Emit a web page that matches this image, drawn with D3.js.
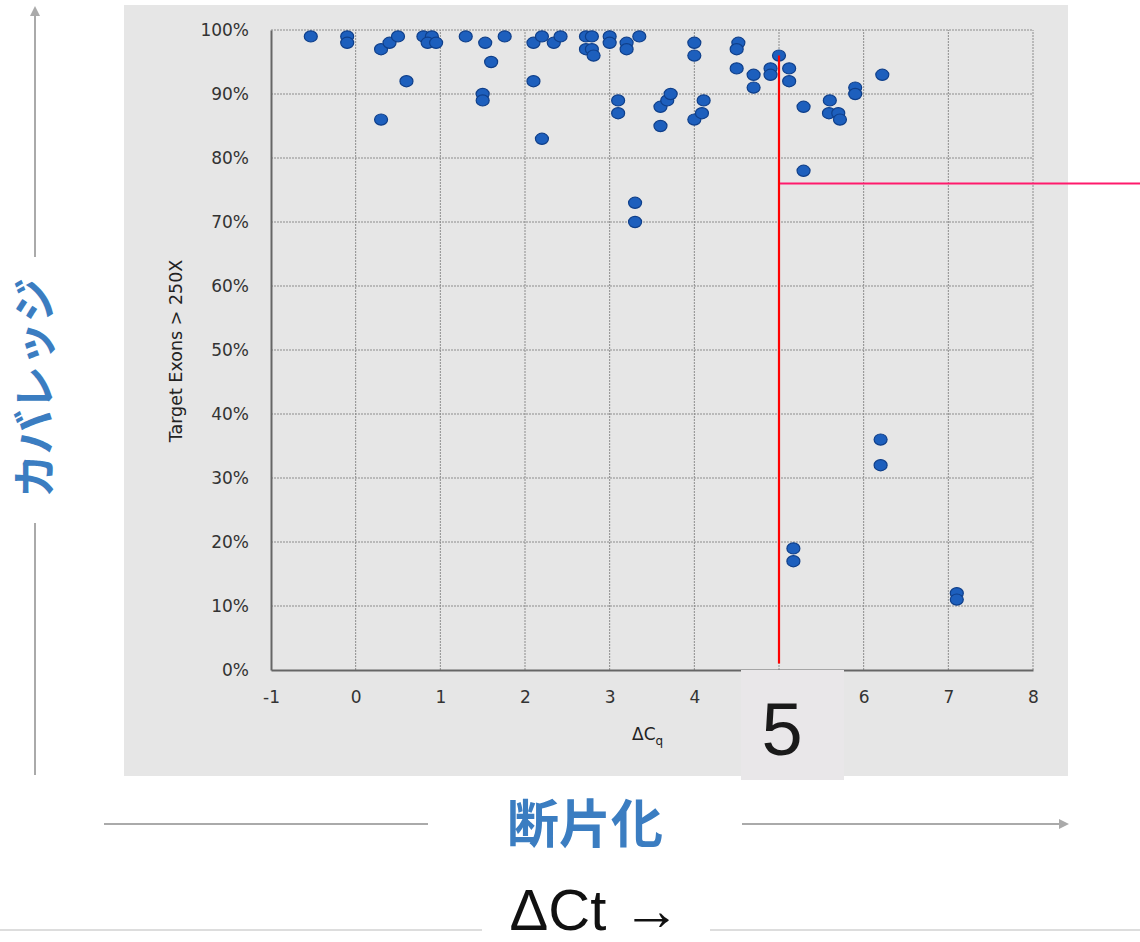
<!DOCTYPE html>
<html>
<head>
<meta charset="utf-8">
<script src="https://cdn.jsdelivr.net/npm/d3@7"></script>
<style>
  body { margin: 0; background: #fff; }
  svg { display: block; }
</style>
</head>
<body>
<div id="chart"></div>
<script>
// ΔCq of each sample
var deltaCq = [
  -0.53, -0.1, -0.1, 0.3, 0.4, 0.5, 0.6, 0.3, 0.8, 0.9, 0.85, 0.95,
  1.3, 1.53, 1.76, 1.6, 1.5, 1.5, 2.1, 2.1, 2.2, 2.2, 2.34, 2.42,
  2.72, 2.79, 2.72, 2.79, 2.81, 3.0, 3.0, 3.2, 3.2, 3.35, 3.1, 3.1,
  3.6, 3.68, 3.72, 3.6, 4.0, 4.0, 4.11, 4.0, 4.09, 4.52, 4.5, 4.5,
  4.7, 4.7, 4.9, 4.9, 5.0, 5.12, 5.12, 5.29, 5.29, 5.6, 5.59, 5.7,
  5.72, 5.9, 5.9, 6.22, 3.3, 3.3, 6.2, 6.2, 5.17, 5.17, 7.1, 7.1
];
// % of target exons > 250X
var coverage = [
  99, 99, 98, 97, 98, 99, 92, 86, 99, 99, 98, 98,
  99, 98, 99, 95, 90, 89, 92, 98, 83, 99, 98, 99,
  99, 99, 97, 97, 96, 99, 98, 98, 97, 99, 89, 87,
  88, 89, 90, 85, 98, 96, 89, 86, 87, 98, 97, 94,
  93, 91, 94, 93, 96, 94, 92, 88, 78, 89, 87, 87,
  86, 91, 90, 93, 73, 70, 36, 32, 19, 17, 12, 11
];
var xTicks = [-1, 0, 1, 2, 3, 4, 5, 6, 7, 8];
var yTicks = [0, 10, 20, 30, 40, 50, 60, 70, 80, 90, 100];
var cutoffCq = 5;
var cutoffCoverage = 76;

var W = 1140, H = 942;
var svg = d3.select("#chart").append("svg").attr("width", W).attr("height", H);

var defs = svg.append("defs");
defs.append("marker").attr("id", "arr")
  .attr("viewBox", "0 0 10 10").attr("refX", 8).attr("refY", 5)
  .attr("markerWidth", 5).attr("markerHeight", 5).attr("orient", "auto")
  .append("path").attr("d", "M0,0 L10,5 L0,10 z").attr("fill", "#aaa");

// grey panel behind the chart
svg.append("rect").attr("x", 124).attr("y", 5).attr("width", 944).attr("height", 771)
  .attr("fill", "#e6e6e6");

var x = d3.scaleLinear().domain([-1, 8]).range([271, 1033]);
var y = d3.scaleLinear().domain([0, 100]).range([670, 30]);

// grid
var grid = svg.append("g").attr("stroke", "#8c8c8c").attr("stroke-width", 1).attr("stroke-dasharray", "2,1");
grid.selectAll("line.v").data(xTicks.slice(1)).enter().append("line")
  .attr("x1", function(d) { return x(d); }).attr("x2", function(d) { return x(d); })
  .attr("y1", y(0)).attr("y2", y(100));
grid.selectAll("line.h").data(yTicks.slice(1)).enter().append("line")
  .attr("x1", x(-1)).attr("x2", x(8))
  .attr("y1", function(d) { return y(d); }).attr("y2", function(d) { return y(d); });

// axes
var yAxis = svg.append("g").attr("transform", "translate(" + x(-1) + ",0)")
  .call(d3.axisLeft(y).tickValues(yTicks).tickSize(0).tickPadding(22).tickFormat(function(d) { return d + "%"; }));
var xAxis = svg.append("g").attr("transform", "translate(0," + y(0) + ")")
  .call(d3.axisBottom(x).tickValues(xTicks).tickSize(0).tickPadding(21).tickFormat(d3.format("d")));
[yAxis, xAxis].forEach(function(a) {
  a.select(".domain").attr("stroke", "#666").attr("stroke-width", 2);
  a.selectAll("text").attr("font-family", "DejaVu Sans, sans-serif").attr("font-size", 17).attr("fill", "#333");
});
// the tick "5" is hidden under the callout box in the original
xAxis.selectAll("text").text(function(d) { return d === cutoffCq ? "" : (d < 0 ? "-" + Math.abs(d) : d); });

svg.append("text")
  .attr("transform", "translate(182,351) rotate(-90)")
  .attr("text-anchor", "middle")
  .attr("font-family", "DejaVu Sans, sans-serif").attr("font-size", 17.5).attr("fill", "#222")
  .text("Target Exons > 250X");

var xl = svg.append("text").attr("x", 632).attr("y", 740)
  .attr("font-family", "DejaVu Sans, sans-serif").attr("font-size", 17).attr("fill", "#222");
xl.append("tspan").text("ΔC");
xl.append("tspan").attr("font-size", 12).attr("dy", 5).text("q");

// points
var pts = d3.range(deltaCq.length);
svg.append("g").selectAll("ellipse").data(pts).enter().append("ellipse")
  .attr("cx", function(i) { return x(deltaCq[i]); })
  .attr("cy", function(i) { return y(coverage[i]); })
  .attr("rx", 6.5).attr("ry", 5.6)
  .attr("fill", "#1d5fbd").attr("stroke", "#0f3f8a").attr("stroke-width", 1.2);

// cut-off lines
svg.append("line")
  .attr("x1", x(cutoffCq)).attr("x2", x(cutoffCq))
  .attr("y1", y(96)).attr("y2", y(1))
  .attr("stroke", "#ff0000").attr("stroke-width", 2.2);
svg.append("line")
  .attr("x1", x(cutoffCq) + 1).attr("x2", W)
  .attr("y1", y(cutoffCoverage)).attr("y2", y(cutoffCoverage))
  .attr("stroke", "#ff1a6c").attr("stroke-width", 2);

// "5" callout box
svg.append("rect").attr("x", 741).attr("y", 670).attr("width", 103).attr("height", 110)
  .attr("fill", "#e9e7e9");
svg.append("text").attr("x", x(cutoffCq) + 3).attr("y", 755).attr("text-anchor", "middle")
  .attr("font-family", "Liberation Sans, Arial, sans-serif").attr("font-size", 74).attr("fill", "#1a1a1a")
  .text("5");

// vertical arrow: coverage
svg.append("line").attr("x1", 35).attr("x2", 35).attr("y1", 257).attr("y2", 8)
  .attr("stroke", "#aaa").attr("stroke-width", 2).attr("marker-end", "url(#arr)");
svg.append("line").attr("x1", 35).attr("x2", 35).attr("y1", 523).attr("y2", 775)
  .attr("stroke", "#aaa").attr("stroke-width", 2);
svg.append("text")
  .attr("transform", "translate(51,388) rotate(-90)")
  .attr("text-anchor", "middle")
  .attr("font-family", "Noto Sans CJK JP, sans-serif").attr("font-weight", 700)
  .attr("font-size", 44).attr("fill", "#3b7dc1")
  .text("カバレッジ");

// horizontal arrow: fragmentation
svg.append("line").attr("x1", 104).attr("x2", 428).attr("y1", 824).attr("y2", 824)
  .attr("stroke", "#aaa").attr("stroke-width", 2);
svg.append("line").attr("x1", 742).attr("x2", 1067).attr("y1", 824).attr("y2", 824)
  .attr("stroke", "#aaa").attr("stroke-width", 2).attr("marker-end", "url(#arr)");
svg.append("text").attr("x", 585).attr("y", 843).attr("text-anchor", "middle")
  .attr("font-family", "Noto Sans CJK JP, sans-serif").attr("font-weight", 700)
  .attr("font-size", 52).attr("fill", "#3b7dc1")
  .text("断片化");

// bottom ΔCt label
svg.append("line").attr("x1", 0).attr("x2", 482).attr("y1", 930).attr("y2", 930)
  .attr("stroke", "#ddd").attr("stroke-width", 2);
svg.append("line").attr("x1", 710).attr("x2", W).attr("y1", 930).attr("y2", 930)
  .attr("stroke", "#ddd").attr("stroke-width", 2);
svg.append("text").attr("x", 595).attr("y", 930).attr("text-anchor", "middle")
  .attr("font-family", "Liberation Sans, Arial, sans-serif").attr("font-size", 58).attr("fill", "#111")
  .text("ΔCt →");
</script>
</body>
</html>
